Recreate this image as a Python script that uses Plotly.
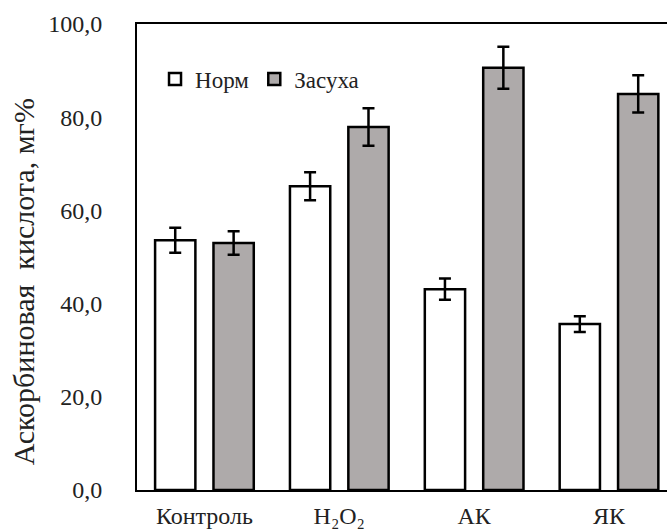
import plotly.graph_objects as go

# Ascorbic acid content by treatment, normal watering vs drought
categories = ["Контроль", "H₂O₂", "АК", "ЯК"]
norm_values = [53.6, 65.2, 43.1, 35.6]
norm_errors = [2.7, 3.0, 2.3, 1.7]
drought_values = [53.0, 77.9, 90.6, 85.0]
drought_errors = [2.5, 4.0, 4.5, 4.0]
y_ticks = [0, 20, 40, 60, 80, 100]
y_title = "Аскорбиновая  кислота, мг%"

FONT = "Liberation Serif, Times New Roman, serif"
TEXT = "#222222"

fig = go.Figure()
fig.add_trace(go.Bar(
    name="Норм", x=categories, y=norm_values,
    marker=dict(color="white", line=dict(color="black", width=2.5)),
    error_y=dict(type="data", array=norm_errors, color="black", thickness=2.5, width=6),
))
fig.add_trace(go.Bar(
    name="Засуха", x=categories, y=drought_values,
    marker=dict(color="#AEAAAA", line=dict(color="black", width=2.5)),
    error_y=dict(type="data", array=drought_errors, color="black", thickness=2.5, width=6),
))

fig.update_layout(
    width=667, height=531,
    margin=dict(l=137, r=0, t=24, b=41),
    paper_bgcolor="white", plot_bgcolor="white",
    barmode="group", bargap=0.134, bargroupgap=0.31,
    separators=", ",
    font=dict(family=FONT, size=23, color=TEXT),
    legend=dict(
        orientation="h", x=0.034, y=0.882, xanchor="left", yanchor="middle",
        font=dict(family=FONT, size=23, color=TEXT),
        itemwidth=30, traceorder="normal", bgcolor="rgba(0,0,0,0)",
    ),
    showlegend=True,
)
fig.update_xaxes(
    range=[-0.5, 3.43], showline=True, linecolor="black", linewidth=2,
    mirror=True, ticks="", showgrid=False, ticklabelstandoff=3,
    automargin=False,
    tickfont=dict(family=FONT, size=24, color=TEXT),
)
fig.update_yaxes(
    range=[0, 100], tickvals=y_ticks, tickformat=".1f",
    showline=True, linecolor="black", linewidth=2, ticks="", showgrid=False,
    zeroline=False, ticklabelstandoff=28, automargin=False,
    tickfont=dict(family=FONT, size=24, color=TEXT),
)

# Vertical axis title, set slightly below the axis midpoint
fig.add_annotation(
    text=y_title, textangle=-90, showarrow=False,
    xref="paper", yref="paper", x=-0.215, y=0.446,
    xanchor="center", yanchor="middle",
    font=dict(family=FONT, size=30, color=TEXT),
)

fig.write_html("out.html")
